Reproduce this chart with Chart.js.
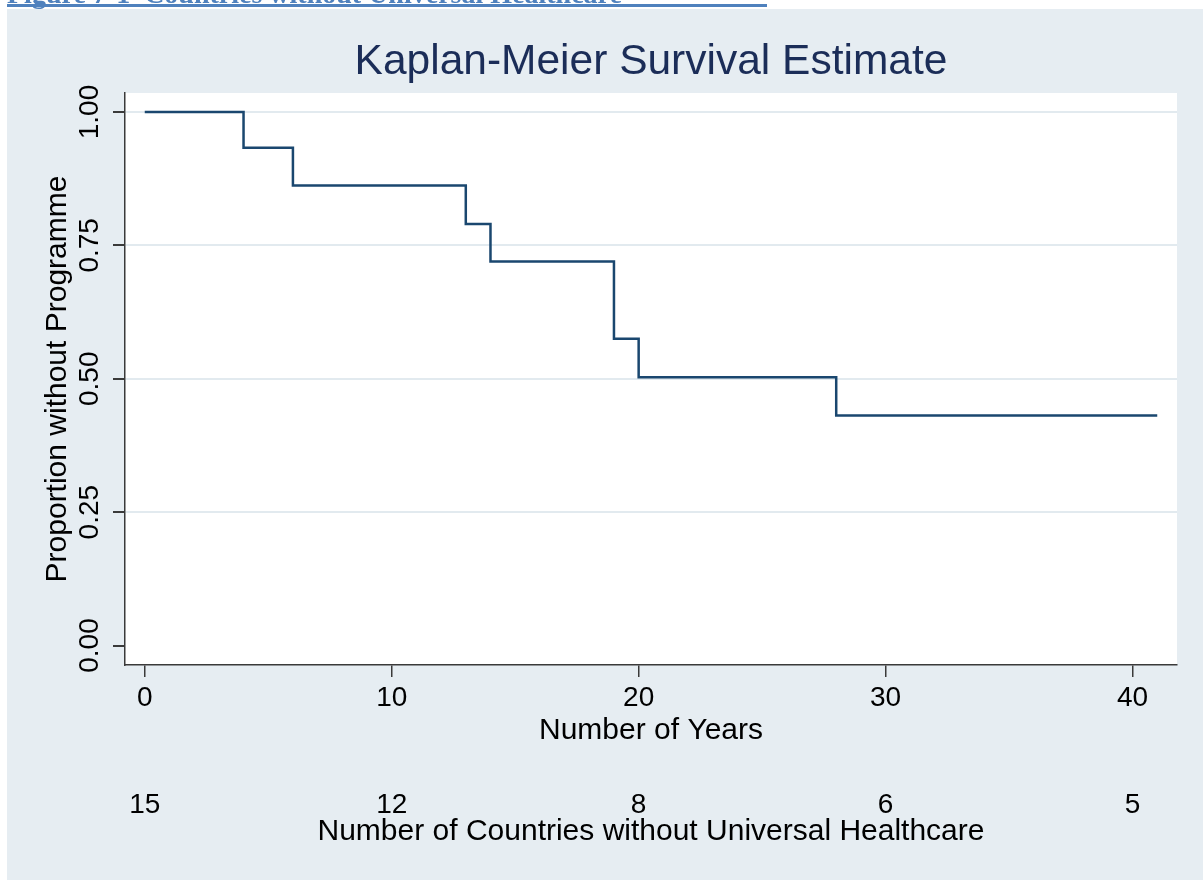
<!DOCTYPE html>
<html>
<head>
<meta charset="utf-8">
<script src="https://cdn.jsdelivr.net/npm/chart.js@4.4.1/dist/chart.umd.min.js"></script>
<style>
  html, body { margin: 0; padding: 0; background: #fff; }
  #wrap { position: relative; width: 1203px; height: 880px; }
</style>
</head>
<body>
<div id="wrap"><canvas id="km" width="1203" height="880"></canvas></div>
<script>
// Kaplan-Meier step points: time in years, proportion still without programme
const years = [0, 4, 6, 13, 14, 19, 20, 28, 41];
const survival = [1.0, 0.933, 0.862, 0.79, 0.72, 0.575, 0.503, 0.431, 0.431];
const yearTicks = [0, 10, 20, 30, 40];
const proportionTicks = [0, 0.25, 0.5, 0.75, 1];
const atRisk = [15, 12, 8, 6, 5];

const heading = "Figure 7-1  Countries without Universal Healthcare";
const chartTitle = "Kaplan-Meier Survival Estimate";
const navy = "#1a476f";
const ink = "#000";
const axisGrey = "#3a3a3a";

Chart.defaults.font.family = '"Liberation Sans", Arial, Helvetica, sans-serif';

const backdrop = {
  id: "backdrop",
  beforeDraw(chart) {
    const { ctx, chartArea: a } = chart;
    ctx.save();
    ctx.fillStyle = "#fff";
    ctx.fillRect(0, 0, chart.width, chart.height);
    ctx.fillStyle = "#e6edf2";
    ctx.fillRect(7, 9, chart.width - 7, chart.height - 9);
    ctx.fillStyle = "#fff";
    ctx.fillRect(a.left, a.top, a.right - a.left, a.bottom - a.top);
    // cut-off document heading above the graph
    ctx.fillStyle = "#4f81bd";
    ctx.font = 'bold 28px "Liberation Serif", serif';
    ctx.textBaseline = "alphabetic";
    ctx.fillText(heading, 7, 3, 760);
    ctx.fillRect(7, 4, 760, 3);
    // graph title, centred over the plot region
    ctx.fillStyle = "#1b2d58";
    ctx.font = '42.5px "Liberation Sans", Arial, sans-serif';
    ctx.textAlign = "center";
    ctx.textBaseline = "middle";
    ctx.fillText(chartTitle, (a.left + a.right) / 2, 62);
    ctx.restore();
  },
  afterDraw(chart) {
    // vertical y tick labels, Stata style
    const { ctx } = chart;
    const y = chart.scales.y;
    ctx.save();
    ctx.fillStyle = ink;
    ctx.font = '28px "Liberation Sans", Arial, sans-serif';
    ctx.textAlign = "center";
    ctx.textBaseline = "middle";
    proportionTicks.forEach(v => {
      ctx.save();
      ctx.translate(90, y.getPixelForValue(v));
      ctx.rotate(-Math.PI / 2);
      ctx.fillText(v.toFixed(2), 0, 0);
      ctx.restore();
    });
    ctx.restore();
  }
};

new Chart(document.getElementById("km"), {
  type: "line",
  data: {
    datasets: [{
      data: years.map((t, i) => ({ x: t, y: survival[i] })),
      stepped: true,
      borderColor: navy,
      borderWidth: 2.5,
      pointRadius: 0,
      fill: false
    }]
  },
  options: {
    responsive: false,
    animation: false,
    devicePixelRatio: 1,
    layout: { padding: { left: 0, right: 26, top: 93, bottom: 27 } },
    plugins: {
      legend: { display: false },
      tooltip: { enabled: false },
      title: { display: false }
    },
    scales: {
      x: {
        type: "linear",
        position: "bottom",
        min: -0.8,
        max: 41.8,
        afterBuildTicks: s => { s.ticks = yearTicks.map(v => ({ value: v })); },
        afterFit: s => { s.height = 87; },
        grid: { drawOnChartArea: false, drawTicks: true, tickLength: 12, tickColor: axisGrey, lineWidth: 1.5 },
        border: { color: axisGrey, width: 1.5 },
        ticks: { color: ink, font: { size: 28 }, padding: 4, maxRotation: 0 },
        title: { display: true, text: "Number of Years", color: ink, font: { size: 30 }, padding: { top: 0, bottom: 3 } }
      },
      x2: {
        type: "linear",
        position: "bottom",
        min: -0.8,
        max: 41.8,
        afterBuildTicks: s => { s.ticks = yearTicks.map(v => ({ value: v })); },
        afterFit: s => { s.height = 101; },
        grid: { display: false, drawTicks: false },
        border: { display: false },
        ticks: {
          color: ink,
          font: { size: 28 },
          padding: 36,
          maxRotation: 0,
          callback: v => atRisk[yearTicks.indexOf(v)]
        },
        title: { display: true, text: "Number of Countries without Universal Healthcare", color: ink, font: { size: 30 }, padding: { top: 0, bottom: 3 } }
      },
      y: {
        type: "linear",
        min: -0.0365,
        max: 1.0356,
        afterBuildTicks: s => { s.ticks = proportionTicks.map(v => ({ value: v })); },
        afterFit: s => { s.width = 125; },
        grid: {
          color: c => (c.tick && c.tick.value === 0 ? "rgba(0,0,0,0)" : "#e2eaef"),
          lineWidth: 2,
          tickLength: 12,
          tickColor: axisGrey
        },
        border: { color: axisGrey, width: 1.5 },
        ticks: { display: false },
        title: { display: true, text: "Proportion without Programme", color: ink, font: { size: 30 }, padding: { top: 40, bottom: 0 } }
      }
    }
  },
  plugins: [backdrop]
});
</script>
</body>
</html>
